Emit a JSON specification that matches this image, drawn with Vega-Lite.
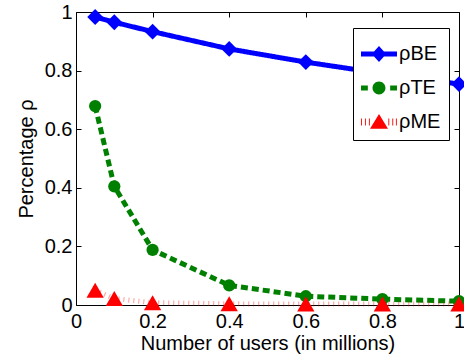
{
  "$schema": "https://vega.github.io/schema/vega-lite/v6.json",
  "width": 383,
  "height": 293,
  "autosize": "none",
  "padding": {"left": 76, "top": 12, "right": 5, "bottom": 53},
  "background": "white",
  "config": {
    "view": {"stroke": "black", "strokeWidth": 1},
    "font": "Liberation Sans",
    "axis": {"labelFont": "Liberation Sans", "titleFont": "Liberation Sans", "labelFontSize": 20, "titleFontSize": 20, "titleFontWeight": "normal", "labelColor": "black", "titleColor": "black", "tickColor": "black", "tickWidth": 1, "ticks": true, "grid": false, "domain": false, "labelFlush": false}
  },
  "data": {
    "values": [
      {"x": 0.05, "y": 0.983, "s": "BE"},
      {"x": 0.1, "y": 0.965, "s": "BE"},
      {"x": 0.2, "y": 0.933, "s": "BE"},
      {"x": 0.4, "y": 0.874, "s": "BE"},
      {"x": 0.6, "y": 0.829, "s": "BE"},
      {"x": 0.8, "y": 0.79, "s": "BE"},
      {"x": 1.0, "y": 0.754, "s": "BE"},
      {"x": 0.05, "y": 0.679, "s": "TE"},
      {"x": 0.1, "y": 0.405, "s": "TE"},
      {"x": 0.2, "y": 0.188, "s": "TE"},
      {"x": 0.4, "y": 0.067, "s": "TE"},
      {"x": 0.6, "y": 0.03, "s": "TE"},
      {"x": 0.8, "y": 0.02, "s": "TE"},
      {"x": 1.0, "y": 0.013, "s": "TE"},
      {"x": 0.05, "y": 0.05, "s": "ME"},
      {"x": 0.1, "y": 0.022, "s": "ME"},
      {"x": 0.2, "y": 0.008, "s": "ME"},
      {"x": 0.4, "y": 0.004, "s": "ME"},
      {"x": 0.6, "y": 0.003, "s": "ME"},
      {"x": 0.8, "y": 0.003, "s": "ME"},
      {"x": 1.0, "y": 0.003, "s": "ME"}
    ]
  },
  "resolve": {"axis": {"x": "independent", "y": "independent"}},
  "layer": [
    {
      "mark": {"type": "line"},
      "encoding": {
        "x": {"field": "x", "type": "quantitative", "scale": {"domain": [0, 1], "nice": false},
          "axis": {"orient": "bottom", "values": [0, 0.2, 0.4, 0.6, 0.8, 1], "format": "~g", "offset": -5, "tickSize": 5, "labelPadding": 6, "title": "Number of users (in millions)", "titlePadding": 2}},
        "y": {"field": "y", "type": "quantitative", "scale": {"domain": [0, 1], "nice": false},
          "axis": {"orient": "left", "values": [0, 0.2, 0.4, 0.6, 0.8, 1], "format": "~g", "offset": -5, "tickSize": 5, "labelPadding": 4, "title": "Percentage ρ", "titlePadding": 8}},
        "color": {"field": "s", "type": "nominal", "scale": {"domain": ["BE", "TE", "ME"], "range": ["#0000ff", "#008000", "#ff0000"]},
          "legend": {
            "orient": "none", "legendX": 277, "legendY": 16, "title": null,
            "fillColor": "white", "strokeColor": "black", "padding": 8,
            "labelFont": "Liberation Sans", "labelFontSize": 20, "labelColor": "black", "labelOffset": 2,
            "labelExpr": "'ρ' + datum.label",
            "symbolSize": 1296, "symbolStrokeWidth": 0, "symbolOpacity": 1, "rowPadding": 6,
            "encode": {"symbols": {"update": {"fill": {"scale": "color", "field": "value"}, "shape": {"signal": "datum.value === 'BE' ? 'M-1,-0.14H1V0.14H-1Z M0,-0.45L0.4,0L0,0.45L-0.4,0Z' : datum.value === 'TE' ? 'M-1,-0.14H-0.62V0.14H-1Z M0.62,-0.14H1V0.14H0.62Z M-0.36,0A0.36,0.36 0 1,1 0.36,0A0.36,0.36 0 1,1 -0.36,0Z' : 'M-1,-0.2H-0.95V0.2H-1Z M-0.78,-0.2H-0.73V0.2H-0.78Z M-0.56,-0.2H-0.51V0.2H-0.56Z M0.52,-0.2H0.57V0.2H0.52Z M0.74,-0.2H0.79V0.2H0.74Z M0.94,-0.2H0.99V0.2H0.94Z M0,-0.45L0.5,0.38L-0.5,0.38Z'"}}}}
          }},
        "strokeDash": {"condition": [{"test": "datum.s === 'TE'", "value": [7, 4]}, {"test": "datum.s === 'ME'", "value": [1, 4]}], "value": [1, 0]},
        "strokeWidth": {"value": 5},
        "opacity": {"condition": {"test": "datum.s === 'ME'", "value": 0.4}, "value": 1}
      }
    },
    {
      "mark": {"type": "point", "filled": true, "opacity": 1},
      "encoding": {
        "x": {"field": "x", "type": "quantitative", "axis": {"orient": "top", "values": [0, 0.2, 0.4, 0.6, 0.8, 1], "labels": false, "title": null, "offset": -5, "tickSize": 5}},
        "y": {"field": "y", "type": "quantitative", "axis": {"orient": "right", "values": [0, 0.2, 0.4, 0.6, 0.8, 1], "labels": false, "title": null, "offset": -5, "tickSize": 5}},
        "color": {"field": "s", "type": "nominal"},
        "shape": {"condition": [{"test": "datum.s === 'BE'", "value": "diamond"}, {"test": "datum.s === 'TE'", "value": "circle"}], "value": "triangle-up"},
        "size": {"condition": [{"test": "datum.s === 'BE'", "value": 250}, {"test": "datum.s === 'TE'", "value": 150}], "value": 300}
      }
    }
  ]
}
